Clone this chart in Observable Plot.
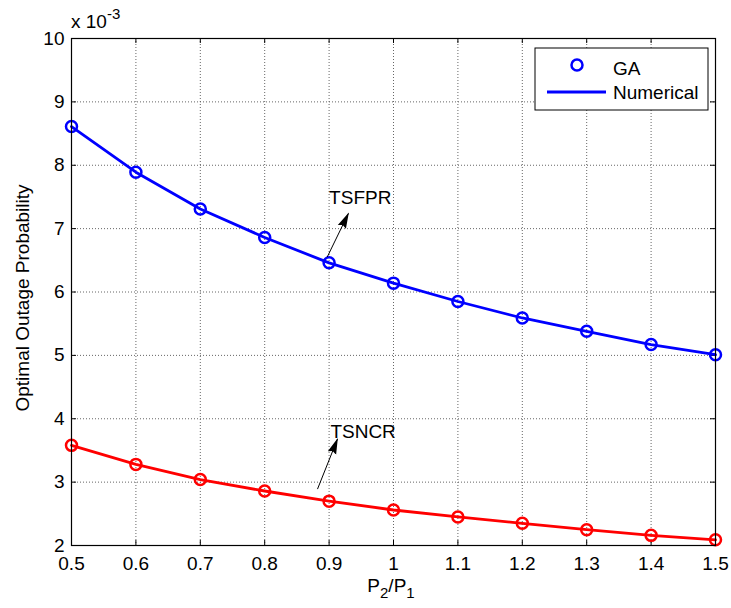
<!DOCTYPE html>
<html>
<head>
<meta charset="utf-8">
<script src="https://cdn.jsdelivr.net/npm/d3@7"></script>
<script src="https://cdn.jsdelivr.net/npm/@observablehq/plot@0.6"></script>
<style>
  html, body { margin: 0; padding: 0; background: #fff; }
  #chart { position: relative; width: 731px; height: 608px; }
  svg { font-family: "Liberation Sans", Arial, sans-serif; }
</style>
</head>
<body>
<div id="chart"></div>
<script>
// ---- data ----
const ratio = [0.5, 0.6, 0.7, 0.8, 0.9, 1.0, 1.1, 1.2, 1.3, 1.4, 1.5];
const tsfpr = [8.61, 7.89, 7.31, 6.86, 6.46, 6.14, 5.85, 5.59, 5.38, 5.17, 5.01];
const tsncr = [3.58, 3.28, 3.04, 2.86, 2.70, 2.56, 2.45, 2.35, 2.25, 2.16, 2.09];
const xTicks = [0.5, 0.6, 0.7, 0.8, 0.9, 1.0, 1.1, 1.2, 1.3, 1.4, 1.5];
const xTickLabels = ["0.5", "0.6", "0.7", "0.8", "0.9", "1", "1.1", "1.2", "1.3", "1.4", "1.5"];
const yTicks = [2, 3, 4, 5, 6, 7, 8, 9, 10];
const yTickLabels = ["2", "3", "4", "5", "6", "7", "8", "9", "10"];
const seriesNames = ["GA", "Numerical"];
const annLabels = ["TSFPR", "TSNCR"];
const annTextX = [0.900, 0.902];
const annTextY = [7.49, 3.79];
const annFromX = [0.897, 0.882];
const annFromY = [6.55, 2.89];
const annToX = [0.930, 0.913];
const annToY = [7.24, 3.68];
const xLabel = ["P", "2", "/P", "1"];
const yLabel = "Optimal Outage Probability";
const exponentLabel = ["x 10", "-3"];

const blue = "#0000ff", red = "#ff0000";
const W = 731, H = 608;
const mL = 71, mR = 16, mT = 38, mB = 63;
const plotW = W - mL - mR, plotH = H - mT - mB;
const FS = 19;

const blueData = ratio.map((x, i) => ({x, y: tsfpr[i]}));
const redData = ratio.map((x, i) => ({x, y: tsncr[i]}));
const ann = annLabels.map((t, i) => ({
  t, tx: annTextX[i], ty: annTextY[i],
  x1: annFromX[i], y1: annFromY[i], x2: annToX[i], y2: annToY[i]
}));

const chart = Plot.plot({
  width: W, height: H,
  marginLeft: mL, marginRight: mR, marginTop: mT, marginBottom: mB,
  style: {fontFamily: "'Liberation Sans', Arial, sans-serif", fontSize: FS + "px", color: "#000", background: "#fff"},
  x: {domain: [0.5, 1.5]},
  y: {domain: [2, 10]},
  marks: [
    // dotted grid
    Plot.ruleX(xTicks, {x: d => d, stroke: "#555", strokeDasharray: "1,2", strokeWidth: 0.9}),
    Plot.ruleY(yTicks, {y: d => d, stroke: "#555", strokeDasharray: "1,2", strokeWidth: 0.9}),
    // inward ticks, all four sides
    Plot.tickX(xTicks, {x: d => d, stroke: "#000", insetTop: plotH - 5}),
    Plot.tickX(xTicks, {x: d => d, stroke: "#000", insetBottom: plotH - 5}),
    Plot.tickY(yTicks, {y: d => d, stroke: "#000", insetRight: plotW - 5}),
    Plot.tickY(yTicks, {y: d => d, stroke: "#000", insetLeft: plotW - 5}),
    // axes (labels only)
    Plot.axisX(xTicks, {tickSize: 0, tickPadding: 11, tickFormat: (d) => xTickLabels[xTicks.indexOf(d)], label: null, fontSize: FS}),
    Plot.axisY(yTicks, {tickSize: 0, tickPadding: 7, tickFormat: (d) => yTickLabels[yTicks.indexOf(d)], label: null, fontSize: FS}),
    // series
    Plot.line(blueData, {x: "x", y: "y", stroke: blue, strokeWidth: 2.8}),
    Plot.dot(blueData, {x: "x", y: "y", stroke: blue, strokeWidth: 2.5, r: 5.5, fill: "none"}),
    Plot.line(redData, {x: "x", y: "y", stroke: red, strokeWidth: 2.8}),
    Plot.dot(redData, {x: "x", y: "y", stroke: red, strokeWidth: 2.5, r: 5.5, fill: "none"}),
    // annotations
    Plot.link(ann, {x1: "x1", y1: "y1", x2: "x2", y2: "y2", stroke: "#000001", strokeWidth: 1}),
    Plot.text(ann, {x: "tx", y: "ty", text: "t", textAnchor: "start", fontSize: FS, fill: "#000"}),
    Plot.frame({stroke: "#000", strokeWidth: 1.2})
  ]
});

const svg = d3.select(chart);
// arrowhead marker
const defs = svg.insert("defs", ":first-child");
defs.append("marker")
  .attr("id", "ahead")
  .attr("viewBox", "0 0 16 10")
  .attr("refX", 15).attr("refY", 5)
  .attr("markerWidth", 16).attr("markerHeight", 10)
  .attr("markerUnits", "userSpaceOnUse")
  .attr("orient", "auto")
  .append("path").attr("d", "M0,0.5 L16,5 L0,9.5 L2,5 Z").attr("fill", "#000");
svg.selectAll('g[stroke="#000001"] > *').attr("marker-end", "url(#ahead)");

// x label with subscripts
const xl = svg.append("text")
  .attr("x", 391).attr("y", 592)
  .attr("text-anchor", "middle")
  .attr("font-size", FS).attr("fill", "#000");
xl.append("tspan").text(xLabel[0]);
xl.append("tspan").attr("font-size", 15).attr("dy", 6).text(xLabel[1]);
xl.append("tspan").attr("dy", -6).text(xLabel[2]);
xl.append("tspan").attr("font-size", 15).attr("dy", 6).text(xLabel[3]);

// y label
svg.append("text")
  .attr("transform", `translate(29,298) rotate(-90)`)
  .attr("text-anchor", "middle")
  .attr("font-size", FS).attr("fill", "#000")
  .text(yLabel);

// exponent
const ex = svg.append("text").attr("x", 71).attr("y", 28).attr("text-anchor", "start")
  .attr("font-size", FS).attr("fill", "#000");
ex.append("tspan").text(exponentLabel[0]);
ex.append("tspan").attr("font-size", 15).attr("dy", -9).text(exponentLabel[1]);

// legend
const lg = svg.append("g").attr("text-anchor", "start");
lg.append("rect").attr("x", 535).attr("y", 48).attr("width", 173).attr("height", 62)
  .attr("fill", "#fff").attr("stroke", "#000").attr("stroke-width", 1);
lg.append("circle").attr("cx", 577).attr("cy", 65).attr("r", 5.5).attr("fill", "none")
  .attr("stroke", blue).attr("stroke-width", 2.5);
lg.append("text").attr("x", 613).attr("y", 68).attr("dy", "0.35em").attr("font-size", FS).text(seriesNames[0]);
lg.append("line").attr("x1", 547).attr("x2", 606).attr("y1", 92).attr("y2", 92)
  .attr("stroke", blue).attr("stroke-width", 2.8);
lg.append("text").attr("x", 613).attr("y", 92).attr("dy", "0.35em").attr("font-size", FS).text(seriesNames[1]);

document.getElementById("chart").appendChild(chart);
</script>
</body>
</html>
